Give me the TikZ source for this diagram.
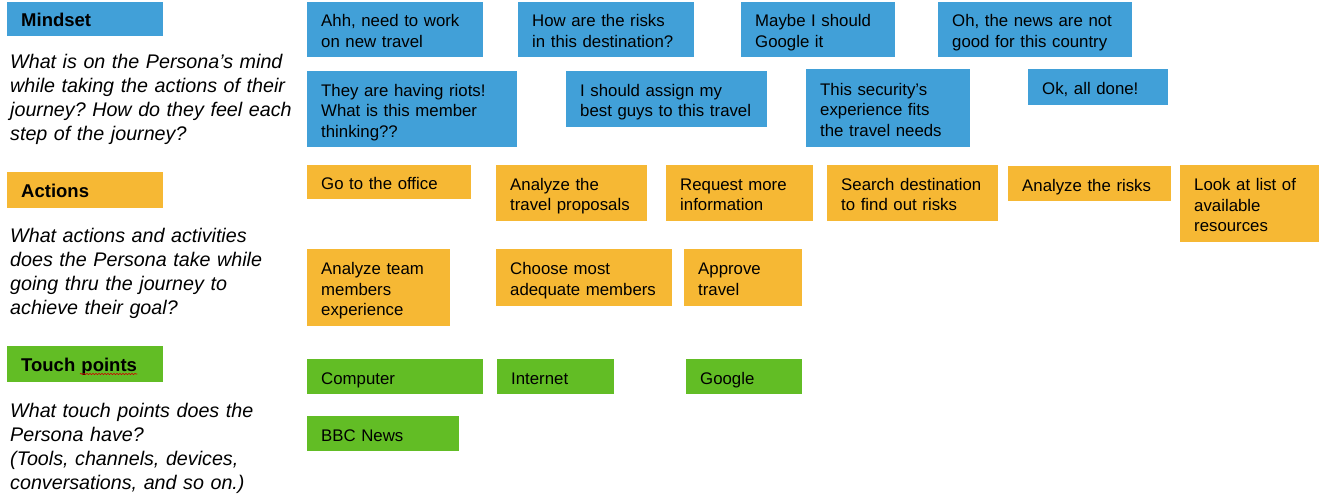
\documentclass[tikz,border=0pt]{standalone}
\usepackage{fontspec}
\setmainfont{Liberation Sans}
\frenchspacing
\usetikzlibrary{decorations.pathmorphing}
\definecolor{mindblue}{RGB}{65,160,216}
\definecolor{actorange}{RGB}{246,184,52}
\definecolor{touchgreen}{RGB}{98,189,37}
\begin{document}
\begin{tikzpicture}[x=1pt, y=-1pt, line join=round, line cap=round,
  note/.style={anchor=north west, inner xsep=14pt, inner ysep=0pt, align=left,
    font=\fontsize{16.8}{20.5}\selectfont, execute at begin node=\rule{0pt}{19pt},
    execute at end node=\rule[-4pt]{0pt}{4pt}},
  head/.style={note, text width=128pt, font=\fontsize{18.5}{22}\selectfont\bfseries},
  ask/.style={anchor=base west, inner sep=0pt, align=left, text width=300pt,
    font=\fontsize{19.7}{24}\selectfont\itshape}]
\useasboundingbox (0,0) rectangle (1322,494);
% row headers and questions
\node[head, fill=mindblue, minimum height=34pt] (mindset) at (7,2) {Mindset};
\node[ask] (mindq) at (10,68.3) {What is on the Persona's mind\\while taking the actions of their\\journey? How do they feel each\\step of the journey?};
\node[head, fill=actorange, minimum height=36pt] (actions) at (7,172) {Actions};
\node[ask] (actq) at (10,243) {What actions and activities\\does the Persona take while\\going thru the journey to\\achieve their goal?};
\node[head, fill=touchgreen, minimum height=36pt] (touch) at (7,346) {Touch points};
\draw[red!80!black, line width=0.6pt, decorate, decoration={snake, amplitude=0.7pt, segment length=3pt}] (80,374)--(137,374);
\node[ask] (touchq) at (10,417) {What touch points does the\\Persona have?\\(Tools, channels, devices,\\conversations, and so on.)};
% mindset notes
\node[note, fill=mindblue, text width=148pt, minimum height=55pt] (m1) at (307,2) {Ahh, need to work\\on new travel};
\node[note, fill=mindblue, text width=148pt, minimum height=55pt] (m2) at (518,2) {How are the risks\\in this destination?};
\node[note, fill=mindblue, text width=126pt, minimum height=55pt] (m3) at (741,2) {Maybe I should\\Google it};
\node[note, fill=mindblue, text width=166pt, minimum height=55pt] (m4) at (938,2) {Oh, the news are not\\good for this country};
\node[note, fill=mindblue, text width=182pt, minimum height=76pt] (m5) at (307,71) {They are having riots!\\What is this member\\thinking??};
\node[note, fill=mindblue, text width=173pt, minimum height=56pt] (m6) at (566,71) {I should assign my\\best guys to this travel};
\node[note, fill=mindblue, text width=136pt, minimum height=78pt] (m7) at (806,69) {This security's\\experience fits\\the travel needs};
\node[note, fill=mindblue, text width=112pt, minimum height=36pt] (m8) at (1028,69) {Ok, all done!};
% action notes
\node[note, fill=actorange, text width=136pt, minimum height=34pt] (a1) at (307,165) {Go to the office};
\node[note, fill=actorange, text width=123pt, minimum height=56pt] (a2) at (496,165) {Analyze the\\travel proposals};
\node[note, fill=actorange, text width=119pt, minimum height=56pt] (a3) at (666,165) {Request more\\information};
\node[note, fill=actorange, text width=143pt, minimum height=56pt] (a4) at (827,165) {Search destination\\to find out risks};
\node[note, fill=actorange, text width=135pt, minimum height=35pt] (a5) at (1008,166) {Analyze the risks};
\node[note, fill=actorange, text width=111pt, minimum height=77pt] (a6) at (1180,165) {Look at list of\\available\\resources};
\node[note, fill=actorange, text width=115pt, minimum height=77pt] (a7) at (307,249) {Analyze team\\members\\experience};
\node[note, fill=actorange, text width=148pt, minimum height=57pt] (a8) at (496,249) {Choose most\\adequate members};
\node[note, fill=actorange, text width=90pt, minimum height=57pt] (a9) at (684,249) {Approve\\travel};
% touch point notes
\node[note, fill=touchgreen, text width=148pt, minimum height=35pt] (t1) at (307,359) {Computer};
\node[note, fill=touchgreen, text width=89pt, minimum height=35pt] (t2) at (497,359) {Internet};
\node[note, fill=touchgreen, text width=88pt, minimum height=35pt] (t3) at (686,359) {Google};
\node[note, fill=touchgreen, text width=124pt, minimum height=35pt] (t4) at (307,416) {BBC News};
\end{tikzpicture}
\end{document}
